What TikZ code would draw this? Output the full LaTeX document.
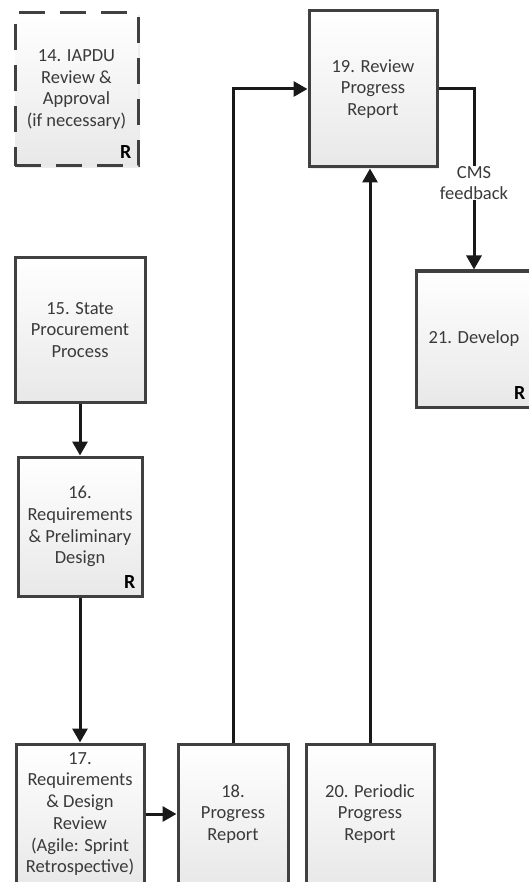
\documentclass[tikz,border=0pt]{standalone}
\usepackage{fontspec}
\setmainfont{Carlito}
\usetikzlibrary{positioning}
\usetikzlibrary{arrows.meta}
\usetikzlibrary{shadows}
\definecolor{boxline}{HTML}{404040}
\definecolor{boxtext}{HTML}{3A3A3A}
\tikzset{
    stepbox/.style={draw=boxline, line width=3pt, top color=white, bottom color=black!9,
        drop shadow={shadow xshift=2pt, shadow yshift=-2pt, opacity=0.15},
        align=center, text=boxtext, font=\fontsize{18.5}{21.7}\selectfont, inner sep=2pt},
    rmark/.style={font=\fontsize{20}{20}\selectfont\bfseries, inner sep=0pt, text=black},
    flow/.style={draw=black!90, line width=3pt, -{Triangle[width=15pt,length=14pt]}}
}

\begin{document}
\begin{tikzpicture}[x=1pt, y=1pt]
    \useasboundingbox (0,0) rectangle (529,-882);
    \clip (0,0) rectangle (529,-882);
    \node[stepbox, dash pattern=on 26pt off 15pt, minimum width=123pt, minimum height=153pt] (n14) at (76.5,-89.5) {14. IAPDU\\Review \&\\Approval\\(if necessary)};
    \node[stepbox, minimum width=130pt, minimum height=144pt] (n15) at (80,-330) {15. State\\Procurement\\Process};
    \node[stepbox, minimum width=124pt, minimum height=139pt, below = 52pt of n15] (n16) {16.\\Requirements\\\& Preliminary\\Design};
    \node[stepbox, minimum width=128pt, minimum height=140pt, below = 145pt of n16] (n17) {17.\\Requirements\\\& Design\\Review\\(Agile: Sprint\\Retrospective)};
    \node[stepbox, minimum width=110pt, minimum height=140pt, right = 31pt of n17] (n18) {18.\\Progress\\Report};
    \node[stepbox, minimum width=128pt, minimum height=140pt, right = 15pt of n18] (n20) {20. Periodic\\Progress\\Report};
    \node[stepbox, minimum width=128pt, minimum height=156pt] (n19) at (373,-89) {19. Review\\Progress\\Report};
    \node[stepbox, minimum width=116pt, minimum height=136pt] (n21) at (474,-339) {21. Develop};
    \node[rmark, above left = 9pt and 8pt of n14.south east] (r14) {R};
    \node[rmark, above left = 9pt and 8pt of n16.south east] (r16) {R};
    \node[rmark, above left = 9pt and 8pt of n21.south east] (r21) {R};
    \path[flow] (n15.south) -- (n16.north);
    \path[flow] (n16.south) -- (n17.north);
    \path[flow] (n17.east) -- (n18.west);
    \path[flow] (n18.north) |- (n19.west);
    \path[flow] (n20.north) -- (n20.north |- n19.south);
    \path[flow] (n19.east) -| (n21.north) node[pos=0.76, fill=white, text=boxtext, align=center, inner sep=1pt, font=\fontsize{18.5}{20.5}\selectfont] (fb) {CMS\\feedback};
\end{tikzpicture}
\end{document}
